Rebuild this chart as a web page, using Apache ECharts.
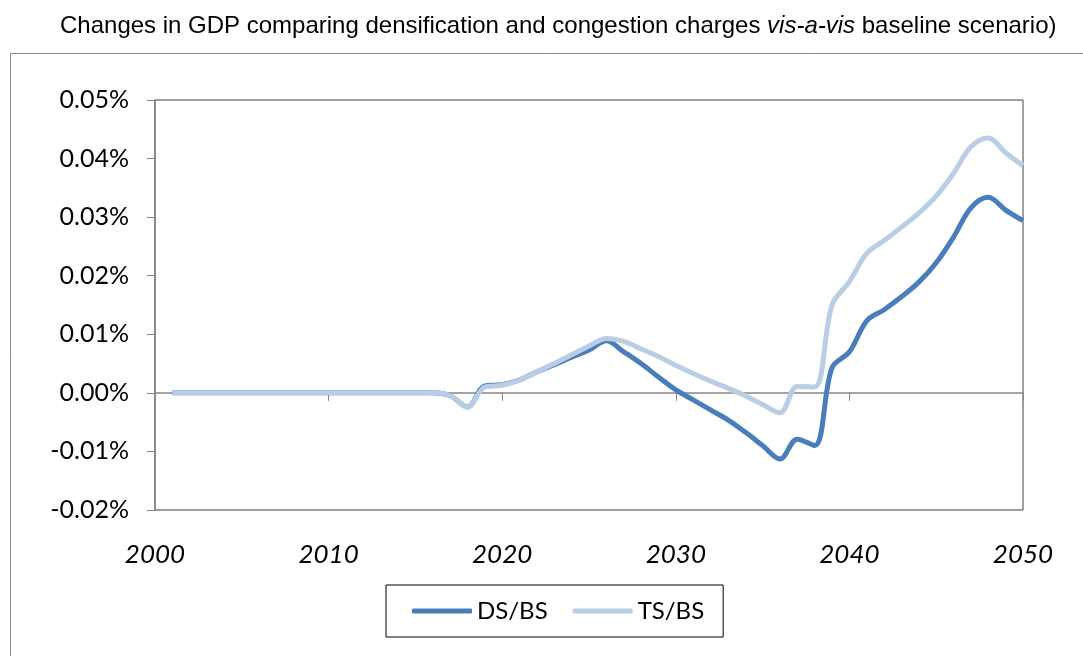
<!DOCTYPE html>
<html>
<head>
<meta charset="utf-8">
<title>Changes in GDP</title>
<script src="https://cdn.jsdelivr.net/npm/echarts@6/dist/echarts.min.js"></script>
<style>
  html, body { margin: 0; padding: 0; background: #fff; }
  #chart { width: 1083px; height: 656px; }
</style>
</head>
<body>
<div id="chart"></div>
<script>
// years on the x axis
const years = [
  2001, 2002, 2003, 2004, 2005, 2006, 2007, 2008, 2009, 2010,
  2011, 2012, 2013, 2014, 2015, 2016, 2017, 2018, 2019, 2020,
  2021, 2022, 2023, 2024, 2025, 2026, 2027, 2028, 2029, 2030,
  2031, 2032, 2033, 2034, 2035, 2036, 2037, 2038, 2039, 2040,
  2041, 2042, 2043, 2044, 2045, 2046, 2047, 2048, 2049, 2050
];

// values in percent (0.01 = 0.01%)
const dsBs = [
  0, 0, 0, 0, 0, 0, 0, 0, 0, 0,
  0, 0, 0, 0, 0, 0, -0.0005, -0.0024, 0.0012, 0.0014,
  0.0022, 0.0036, 0.0048, 0.0061, 0.0073, 0.0089, 0.0070, 0.0050, 0.0027, 0.0005,
  -0.0012, -0.0029, -0.0046, -0.0067, -0.0090, -0.0113, -0.0079, -0.0090, 0.0043, 0.0070,
  0.0123, 0.0142, 0.0164, 0.0189, 0.0222, 0.0266, 0.0316, 0.0334, 0.0312, 0.0294
];

const tsBs = [
  0, 0, 0, 0, 0, 0, 0, 0, 0, 0,
  0, 0, 0, 0, 0, 0, -0.0005, -0.0024, 0.0010, 0.0013,
  0.0022, 0.0036, 0.0050, 0.0065, 0.0080, 0.0093, 0.0088, 0.0075, 0.0062, 0.0047,
  0.0033, 0.0020, 0.0008, -0.0005, -0.0020, -0.0034, 0.0011, 0.0010, 0.0150, 0.0190,
  0.0238, 0.0260, 0.0283, 0.0307, 0.0336, 0.0375, 0.0420, 0.0435, 0.0410, 0.0388
];

const seriesNames = ['DS/BS', 'TS/BS'];
const seriesColors = ['#4a7ebb', '#b9cde5'];

const chart = echarts.init(document.getElementById('chart'));

const pair = (vals) => years.map((y, i) => [y, vals[i]]);

const option = {
  animation: false,
  backgroundColor: '#fff',
  title: {
    text: '{n|Changes in GDP comparing densification and congestion charges }{i|vis-a-vis}{n| baseline scenario)}',
    left: 55,
    top: 9,
    textStyle: {
      rich: {
        n: { fontFamily: 'Liberation Sans', fontSize: 24, fontWeight: 'normal', color: '#000' },
        i: { fontFamily: 'Liberation Sans', fontSize: 24, fontWeight: 'normal', color: '#000', fontStyle: 'italic' }
      }
    }
  },
  graphic: [{
    type: 'rect',
    shape: { x: 10.5, y: 53.5, width: 1100, height: 650 },
    style: { fill: 'none', stroke: '#8a8a8a', lineWidth: 1 },
    silent: true
  }],
  legend: {
    data: seriesNames.map((n) => ({ name: n, icon: 'roundRect' })),
    left: 386,
    top: 585,
    orient: 'horizontal',
    itemWidth: 60,
    itemHeight: 5,
    itemGap: 25,
    padding: [14, 19, 14, 26],
    borderColor: '#000',
    borderWidth: 1,
    textStyle: { fontFamily: 'Lato', fontSize: 24, color: '#000' }
  },
  grid: {
    left: 155,
    right: 60,
    top: 100,
    bottom: 146,
    show: true,
    borderColor: '#404040',
    borderWidth: 1,
    containLabel: false
  },
  xAxis: [
    {
      type: 'value',
      position: 'bottom',
      min: 2000,
      max: 2050,
      interval: 10,
      axisLine: { onZero: true, lineStyle: { color: '#868686', width: 1.5 } },
      axisTick: { show: true, inside: false, length: 8, lineStyle: { color: '#868686' } },
      axisLabel: { show: false },
      splitLine: { show: false }
    },
    {
      type: 'value',
      position: 'bottom',
      min: 2000,
      max: 2050,
      interval: 10,
      axisLine: { show: false, onZero: false },
      axisTick: { show: false },
      axisLabel: {
        show: true,
        margin: 32,
        fontFamily: 'Lato',
        fontSize: 26,
        fontStyle: 'italic',
        color: '#000',
        formatter: (v) => String(v)
      },
      splitLine: { show: false }
    }
  ],
  yAxis: {
    type: 'value',
    min: -0.02,
    max: 0.05,
    interval: 0.01,
    z: 5,
    axisLine: { show: true, lineStyle: { color: '#868686', width: 1.5 } },
    axisTick: { show: true, inside: false, length: 8, lineStyle: { color: '#868686' } },
    axisLabel: {
      margin: 26,
      fontFamily: 'Lato',
      fontSize: 25,
      color: '#000',
      formatter: (v) => v.toFixed(2) + '%'
    },
    splitLine: { show: false }
  },
  series: seriesNames.map((name, k) => ({
    name: name,
    type: 'line',
    xAxisIndex: 0,
    smooth: 0.35,
    showSymbol: false,
    symbol: 'none',
    data: pair(k === 0 ? dsBs : tsBs),
    lineStyle: { color: seriesColors[k], width: 5 },
    itemStyle: { color: seriesColors[k] }
  }))
};

chart.setOption(option);
</script>
</body>
</html>
